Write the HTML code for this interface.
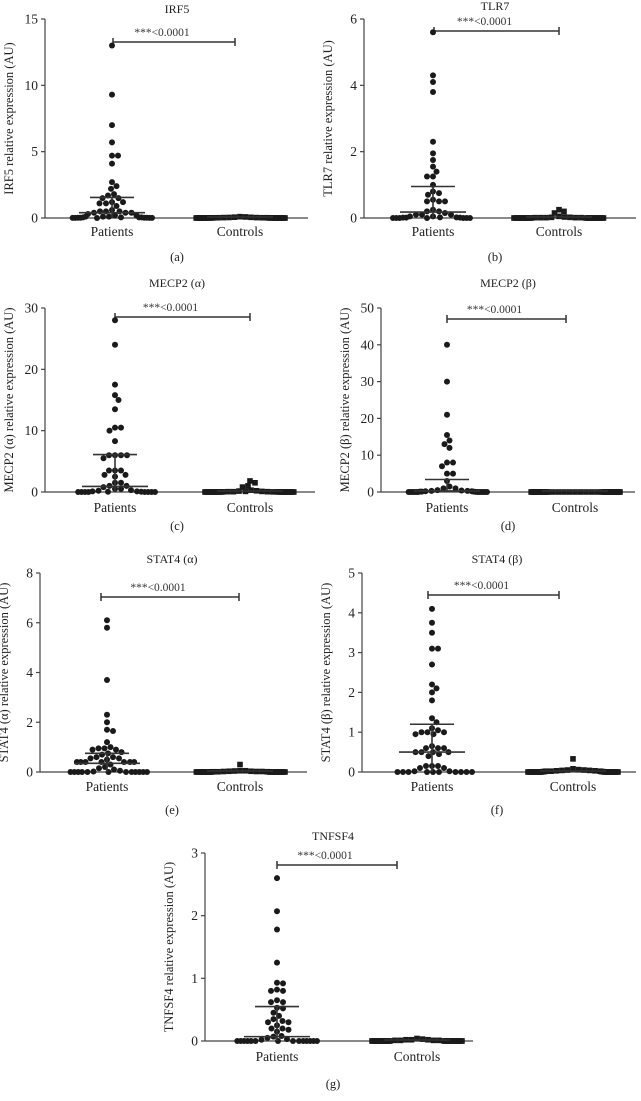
<!DOCTYPE html>
<html><head><meta charset="utf-8"><style>
html,body{margin:0;padding:0;background:#fff}
svg{display:block}
text{font-family:"Liberation Serif",serif;fill:#222}
</style></head><body>
<svg id="fig" width="641" height="1101" viewBox="0 0 641 1101" xmlns="http://www.w3.org/2000/svg"></svg>
<script>
// ---- data ----
const panelNames = ["IRF5","TLR7","MECP2 (α)","MECP2 (β)","STAT4 (α)","STAT4 (β)","TNFSF4"];
const panelLetters = ["(a)","(b)","(c)","(d)","(e)","(f)","(g)"];
const yMaxes = [15,6,30,50,8,5,3];
const yTickLabels = [[0,5,10,15],[0,2,4,6],[0,10,20,30],[0,10,20,30,40,50],[0,2,4,6,8],[0,1,2,3,4,5],[0,1,2,3]];
const categories = ["Patients","Controls"];
const pLabel = "***<0.0001";
const zeros = n => Array(n).fill(0);
const patientsA = [13,9.3,7,5.7,4.7,4.7,4.1,2.7,2.4,2.2,1.8,1.7,1.5,1.5,1.2,1.2,1.1,1.1,0.9,0.6,0.5,0.5,0.5,0.4,0.4,0.4,0.3,0.2,0.2,0.1,0.1,0.1,0.05,0.05,0.05,0.05,0.02,0.02,0.02,0.02,0.01,0.01,0.01,0.01,0];
const controlsA = [0.1,0.08,0.06,0.05,0.04,0.03,0.03,0.02,0.02,0.02,0.01,0.01,0.01,0.01,0.01,0.01,0.01,0.01,0.01,0.01,0,0,0,0,0,0,0,0,0,0,0,0,0,0,0,0,0,0,0,0];
const patientsB = [5.6,4.3,4.1,3.8,2.3,1.95,1.75,1.55,1.4,1.25,1.25,1.0,0.8,0.75,0.7,0.55,0.5,0.5,0.5,0.25,0.2,0.2,0.15,0.1,0.1,0.1,0.05,0.05,0.02,0.02,0.01,0.01,0.01,0,0,0,0,0,0,0];
const controlsB = [0.25,0.2,0.15,0.05,0.03,0.02,0.02,0.01,0.01,0.01,0.01,0.01,0,0,0,0,0,0,0,0,0,0,0,0,0,0,0,0,0,0,0,0,0,0,0,0,0,0];
const patientsC = [28,24,17.5,15.8,15,13.5,10.5,10.5,10,8.3,6,6,6,6,5.5,3.5,3.5,3.5,2.8,2.8,2.5,1.5,1.5,1,1,0.8,0.5,0.5,0.3,0.2,0.1,0.1,0.05,0.05,0,0,0,0,0,0,0,0];
const controlsC = [1.8,1.5,1.0,0.8,0.3,0.2,0.15,0.1,0.1,0.05,0.05,0.05,0.02,0.02,0.02,0.01,0.01,0.01,0.01,0,0,0,0,0,0,0,0,0,0,0,0,0,0,0,0,0,0,0];
const patientsD = [40,30,21,15.5,14,13,12,8,8,7,5,5,3,1.5,1,1,0.5,0.4,0.3,0.3,0.2,0.2,0.1,0.1,0.1,0.05,0,0,0,0,0,0,0,0,0,0,0,0];
const controlsD = zeros(42);
const patientsE = [6.1,5.8,3.7,2.3,2.0,1.7,1.65,1.2,1.0,0.95,0.95,0.9,0.9,0.8,0.75,0.7,0.6,0.6,0.55,0.55,0.5,0.4,0.4,0.4,0.4,0.4,0.4,0.4,0.3,0.2,0.15,0.1,0.05,0.02,0,0,0,0,0,0,0,0,0,0,0,0];
const controlsE = [0.3,0.05,0.05,0.04,0.03,0.03,0.02,0.02,0.02,0.01,0.01,0.01,0.01,0,0,0,0,0,0,0,0,0,0,0,0,0,0,0,0,0,0,0,0,0,0,0,0];
const patientsF = [4.1,3.75,3.5,3.1,3.1,2.7,2.2,2.1,2.0,1.8,1.35,1.25,1.1,1.05,1.0,1.0,1.0,0.95,0.95,0.65,0.6,0.6,0.6,0.5,0.5,0.5,0.5,0.45,0.4,0.15,0.15,0.15,0.1,0.1,0.02,0.02,0,0,0,0,0,0,0,0,0,0];
const controlsF = [0.33,0.08,0.06,0.05,0.05,0.04,0.04,0.03,0.03,0.02,0.02,0.02,0.01,0.01,0.01,0.01,0,0,0,0,0,0,0,0,0,0,0,0,0,0,0,0,0,0,0,0,0,0];
const patientsG = [2.6,2.07,1.78,1.25,0.93,0.92,0.82,0.8,0.8,0.65,0.62,0.62,0.53,0.52,0.45,0.4,0.35,0.32,0.3,0.3,0.25,0.2,0.2,0.18,0.15,0.08,0.07,0.05,0.03,0.02,0,0,0,0,0,0,0,0,0,0,0,0,0,0];
const controlsG = [0.04,0.03,0.02,0.02,0.02,0.01,0.01,0.01,0.01,0,0,0,0,0,0,0,0,0,0,0,0,0,0,0,0,0,0,0,0,0,0,0,0,0,0,0,0,0,0,0,0];
const patientSeries = [patientsA,patientsB,patientsC,patientsD,patientsE,patientsF,patientsG];
const controlSeries = [controlsA,controlsB,controlsC,controlsD,controlsE,controlsF,controlsG];
const medians = [0.4,0.18,0.9,0.3,0.35,0.5,0.07];
const upperQuartiles = [1.55,0.95,6.1,3.4,0.75,1.2,0.55];

// ---- layout (pixel geometry, not data) ----
const L = [
 {ax:45,top:19,y0:218,pat:112,ctl:240,end:308,tx:177,ty:13,br:42,bx1:113,bx2:235,lab:236,let:261},
 {ax:364,top:19,y0:218,pat:433,ctl:559,end:636,tx:495,ty:10,br:31,bx1:434,bx2:559,lab:236,let:261},
 {ax:45,top:308,y0:492,pat:115,ctl:250,end:315,tx:177,ty:287,br:317,bx1:115,bx2:250,lab:512,let:530},
 {ax:381,top:308,y0:492,pat:447,ctl:575,end:635,tx:508,ty:287,br:319,bx1:447,bx2:566,lab:512,let:530},
 {ax:40,top:573,y0:772,pat:107,ctl:240,end:307,tx:172,ty:563,br:597,bx1:101,bx2:239,lab:791,let:814},
 {ax:362,top:573,y0:772,pat:432,ctl:573,end:636,tx:497,ty:563,br:595,bx1:428,bx2:559,lab:791,let:814},
 {ax:205,top:853,y0:1041,pat:277,ctl:417,end:473,tx:333,ty:840,br:865,bx1:277,bx2:397,lab:1061,let:1088}
];
const NS="http://www.w3.org/2000/svg";
const svg=document.getElementById('fig');
function mk(tag,attrs,parent){const e=document.createElementNS(NS,tag);for(const k in attrs)e.setAttribute(k,attrs[k]);(parent||svg).appendChild(e);return e;}

function swarm(ys, r, W){
  const placed=[];
  const order=ys.map((y,i)=>i).sort((a,b)=>ys[a]-ys[b]);
  const res=new Array(ys.length);
  for(const i of order){
    const y=ys[i];let dx=0;
    for(let k=0;k<600;k++){
      const cand=(k%2?1:-1)*Math.ceil(k/2)*0.5;
      let ok=true;
      for(const p of placed){const ddx=p[0]-cand,ddy=p[1]-y;if(ddx*ddx+ddy*ddy<(2*r)*(2*r)){ok=false;break;}}
      if(ok){dx=cand;break;}
    }
    placed.push([dx,y]);res[i]=dx;
  }
  // compress rows that exceed the half-width W
  const maxAbs=Math.max(...res.map(Math.abs));
  if(maxAbs>W){
    res.forEach((d,i)=>{ if(Math.abs(d)>W*0.6) res[i]=Math.sign(d)*(W*0.6+(Math.abs(d)-W*0.6)*(W*0.4)/(maxAbs-W*0.6)); });
  }
  return res;
}

L.forEach((g,pi)=>{
  const grp=mk('g',{});
  
  
  const yScale=v=>g.y0-(v/yMaxes[pi])*(g.y0-g.top);
  const t=mk('text',{x:g.tx,y:g.ty,'text-anchor':'middle','font-size':12},grp);t.textContent=panelNames[pi];
  
  
  const ya=mk('line',{x1:g.ax,y1:g.top,x2:g.ax,y2:g.y0,stroke:'#444','stroke-width':1.2},grp);
  
  
  const xa=mk('line',{x1:g.ax,y1:g.y0,x2:g.end,y2:g.y0,stroke:'#444','stroke-width':1.2},grp);
  
  
  yTickLabels[pi].forEach(v=>{
    const y=yScale(v);
    mk('line',{x1:g.ax-4,y1:y,x2:g.ax,y2:y,stroke:'#444','stroke-width':1.2},grp);
    const tl=mk('text',{x:g.ax-7,y:y+4.5,'text-anchor':'end','font-size':13.5},grp);tl.textContent=v;
    
    
  });
  const cy=(g.top+g.y0)/2;
  const yt=mk('text',{x:0,y:0,'text-anchor':'middle','font-size':12.5,transform:`translate(${g.ax-32},${cy}) rotate(-90)`},grp);
  yt.textContent=panelNames[pi]+' relative expression (AU)';
  
  
  [g.pat,g.ctl].forEach((x,ci)=>{
    const c=mk('text',{x:x,y:g.lab,'text-anchor':'middle','font-size':13.5},grp);c.textContent=categories[ci];
    
    
  });
  const lt=mk('text',{x:g.tx,y:g.let,'text-anchor':'middle','font-size':12.5},grp);lt.textContent=panelLetters[pi];
  
  
  const br=mk('path',{d:`M${g.bx1},${g.br-4}V${g.br+4}M${g.bx1},${g.br}H${g.bx2}M${g.bx2},${g.br-4}V${g.br+4}`,stroke:'#333','stroke-width':1.5,fill:'none'},grp);
  
  
  const pt=mk('text',{x:(g.bx1+g.bx2)/2-12,y:g.br-6,'text-anchor':'middle','font-size':11.5,style:'fill:#333'},grp);pt.textContent=pLabel;
  
  
  const r=3;
  const py=patientSeries[pi].map(yScale);
  const pdx=swarm(py,r,40);
  py.forEach((y,i)=>{
    const c=mk('circle',{cx:g.pat+pdx[i],cy:y,r:r,fill:'#1a1a1a'},grp);
    
    
  });
  const cyv=controlSeries[pi].map(yScale);
  const cdx=swarm(cyv,2.6,45);
  cyv.forEach((y,i)=>{
    const s=mk('rect',{x:g.ctl+cdx[i]-2.8,y:y-2.8,width:5.6,height:5.6,fill:'#1a1a1a'},grp);
    
    
  });
  const my=yScale(medians[pi]),qy=yScale(upperQuartiles[pi]);
  const ml=mk('line',{x1:g.pat-33,y1:my,x2:g.pat+33,y2:my,stroke:'#333','stroke-width':1.6},grp);
  
  
  const ql=mk('line',{x1:g.pat-22,y1:qy,x2:g.pat+22,y2:qy,stroke:'#333','stroke-width':1.6},grp);
  
  
  const vl=mk('line',{x1:g.pat,y1:qy,x2:g.pat,y2:g.y0,stroke:'#333','stroke-width':1.6},grp);
  
  
  const cm=mk('line',{x1:g.ctl-33,y1:g.y0-1,x2:g.ctl+33,y2:g.y0-1,stroke:'#333','stroke-width':1.6},grp);
  
  
});
</script>
</body></html>
